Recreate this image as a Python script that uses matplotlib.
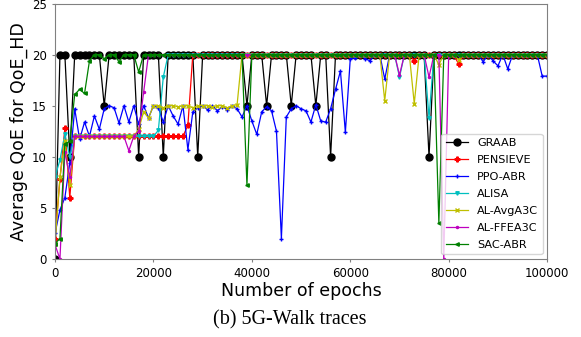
import numpy as np
import matplotlib
matplotlib.use("Agg")
import matplotlib.pyplot as plt

# epochs sampled every 1000
epochs = np.arange(0, 100001, 1000)

graab = [0, 20, 20, 10, 20, 20, 20, 20, 20, 20,
         15, 20, 20, 20, 20, 20, 20, 10, 20, 20,
         20, 20, 10, 20, 20, 20, 20, 20, 20, 10,
         20, 20, 20, 20, 20, 20, 20, 20, 20, 15,
         20, 20, 20, 15, 20, 20, 20, 20, 15, 20,
         20, 20, 20, 15, 20, 20, 10, 20, 20, 20,
         20, 20, 20, 20, 20, 20, 20, 20, 20, 20,
         20, 20, 20, 20, 20, 20, 10, 20, 20, 20,
         20, 20, 20, 20, 20, 20, 20, 20, 20, 20,
         20, 20, 20, 20, 20, 20, 20, 20, 20, 20,
         20]

pensieve = [2.0, 7.8, 12.8, 6.0, 12, 12, 12, 12, 12, 12,
            12, 12, 12, 12, 12, 12, 12, 12, 12, 12,
            12, 12, 12, 12, 12, 12, 12, 13.1, 20, 20,
            20, 20, 20, 20, 20, 20, 20, 20, 20, 20,
            20, 20, 20, 20, 20, 20, 20, 20, 20, 20,
            20, 20, 20, 20, 20, 20, 20, 20, 20, 20,
            20, 20, 20, 20, 20, 20, 20, 20, 20, 20,
            20, 20, 20, 19.4, 20, 20, 20, 20, 20, 20,
            20, 20, 19.1, 20, 20, 20, 20, 20, 20, 20,
            20, 20, 20, 20, 20, 20, 20, 20, 20, 20,
            20]

ppo_abr = [2.5, 4.8, 6.0, 9.4, 14.7, 11.7, 13.4, 12.0, 14.0, 12.7,
           14.7, 15.0, 14.8, 13.3, 15.0, 13.4, 15.0, 13.2, 15.0, 13.8,
           15.0, 14.8, 13.4, 15.0, 14.0, 13.2, 15.0, 10.7, 14.4, 14.8,
           15.0, 14.6, 15.0, 14.5, 14.9, 14.6, 15.0, 14.7, 13.9, 15.0,
           13.5, 12.2, 14.4, 14.9, 14.5, 12.5, 2.0, 13.9, 14.7, 15.0,
           14.7, 14.5, 13.4, 15.1, 13.5, 13.4, 14.7, 16.6, 18.4, 12.4,
           19.6, 19.7, 20.0, 19.6, 19.4, 20.0, 20.0, 17.6, 20.0, 20.0,
           20.0, 20.0, 20.0, 20.0, 20.0, 20.0, 20.0, 20.0, 20.0, 20.0,
           20.0, 20.0, 20.0, 20.0, 20.0, 20.0, 20.0, 19.3, 20.0, 19.4,
           18.9, 20.0, 18.6, 20.0, 20.0, 20.0, 20.0, 20.0, 20.0, 17.9,
           17.9]

alisa = [8.0, 9.7, 12.2, 10.0, 12, 12, 12, 12, 12, 12,
         12, 12, 12, 12, 12, 12, 12, 12, 12, 12,
         12, 12.6, 17.8, 20, 20, 20, 20, 20, 20, 20,
         20, 20, 20, 20, 20, 20, 20, 20, 20, 20,
         20, 20, 20, 20, 20, 20, 20, 20, 20, 20,
         20, 20, 20, 20, 20, 20, 20, 20, 20, 20,
         20, 20, 20, 20, 20, 20, 20, 20, 20, 20,
         17.8, 20, 20, 20, 20, 20, 13.8, 20, 20, 20,
         20, 20, 20, 20, 20, 20, 20, 20, 20, 20,
         20, 20, 20, 20, 20, 20, 20, 20, 20, 20,
         20]

al_avga3c = [1.5, 8.0, 11.5, 7.2, 12, 12, 12, 12, 12, 12,
             12, 12, 12, 12, 12, 12, 12, 12.7, 14.4, 13.8,
             15, 15, 14.8, 15, 15, 14.9, 15, 15, 14.8, 15,
             15, 15, 14.9, 15, 15, 14.8, 15, 15.1, 20, 20,
             20, 20, 20, 20, 20, 20, 20, 20, 20, 20,
             20, 20, 20, 20, 20, 20, 20, 20, 20, 20,
             20, 20, 20, 20, 20, 20, 20, 15.5, 20, 20,
             20, 20, 20, 15.2, 20, 20, 20, 20, 19.0, 20,
             20, 20, 19.5, 20, 20, 20, 20, 20, 20, 20,
             20, 20, 20, 20, 20, 20, 20, 20, 20, 20,
             20]

al_ffea3c = [1.4, 0.0, 10.5, 8.0, 12, 12, 12, 12, 12, 12,
             12, 12, 12, 12, 12, 10.6, 12, 12.5, 16.3, 20,
             20, 20, 20, 20, 20, 20, 20, 20, 20, 20,
             20, 20, 20, 20, 20, 20, 20, 20, 20, 20,
             20, 20, 20, 20, 20, 20, 20, 20, 20, 20,
             20, 20, 20, 20, 20, 20, 20, 20, 20, 20,
             20, 20, 20, 20, 20, 20, 20, 20, 20, 20,
             18.0, 20, 20, 20, 20, 20, 17.8, 20, 20, 0.0,
             20, 20, 20, 20, 20, 20, 20, 20, 20, 20,
             20, 20, 20, 20, 20, 20, 20, 20, 20, 20,
             20]

sac_abr = [1.5, 2.0, 11.3, 11.5, 16.1, 16.6, 16.2, 19.4, 20, 20,
           19.6, 20, 20, 19.3, 20, 20, 20, 18.3, 20, 20,
           20, 20, 20, 20, 20, 20, 20, 20, 20, 20,
           20, 20, 20, 20, 20, 20, 20, 20, 20, 7.2,
           20, 20, 20, 20, 20, 20, 20, 20, 20, 20,
           20, 20, 20, 20, 20, 20, 20, 20, 20, 20,
           20, 20, 20, 20, 20, 20, 20, 20, 20, 20,
           20, 20, 20, 20, 20, 20, 20, 20, 3.5, 20,
           20, 20, 20, 20, 20, 20, 20, 20, 20, 20,
           20, 20, 20, 20, 20, 20, 20, 20, 20, 20,
           20]

fig = plt.figure(figsize=(5.81, 3.37), dpi=100)
ax = fig.add_axes([0.0947, 0.2315, 0.847, 0.758])

lw = 0.9
ax.plot(epochs, graab, color="k", marker="o", markersize=5, lw=lw, label="GRAAB")
ax.plot(epochs, pensieve, color="r", marker="P", markersize=3.5, lw=lw, label="PENSIEVE")
ax.plot(epochs, ppo_abr, color="b", marker="+", markersize=3, lw=lw, label="PPO-ABR")
ax.plot(epochs, alisa, color="c", marker="v", markersize=2.5, lw=lw, label="ALISA")
ax.plot(epochs, al_avga3c, color="y", marker="x", markersize=2.5, lw=lw, label="AL-AvgA3C")
ax.plot(epochs, al_ffea3c, color="m", marker=".", markersize=3, lw=lw, label="AL-FFEA3C")
ax.plot(epochs, sac_abr, color="g", marker="<", markersize=2.5, lw=lw, label="SAC-ABR")

ax.set_xlim(0, 100000)
ax.set_ylim(0, 25)
ax.set_xticks([0, 20000, 40000, 60000, 80000, 100000])
ax.tick_params(labelsize=8.5, length=2.5, color="0.5")
for s in ax.spines.values():
    s.set_color("0.5")
ax.set_xlabel("Number of epochs", fontsize=12.5, labelpad=1)
ax.set_ylabel("Average QoE for QoE_HD", fontsize=12.5, labelpad=3)
ax.legend(loc="lower right", fontsize=8.1, labelspacing=0.62, borderaxespad=0.4)

fig.text(0.498, 0.05, "(b) 5G-Walk traces", family="Liberation Serif",
         fontsize=14.5, ha="center", va="center")

fig.savefig("out.png", dpi=100)
